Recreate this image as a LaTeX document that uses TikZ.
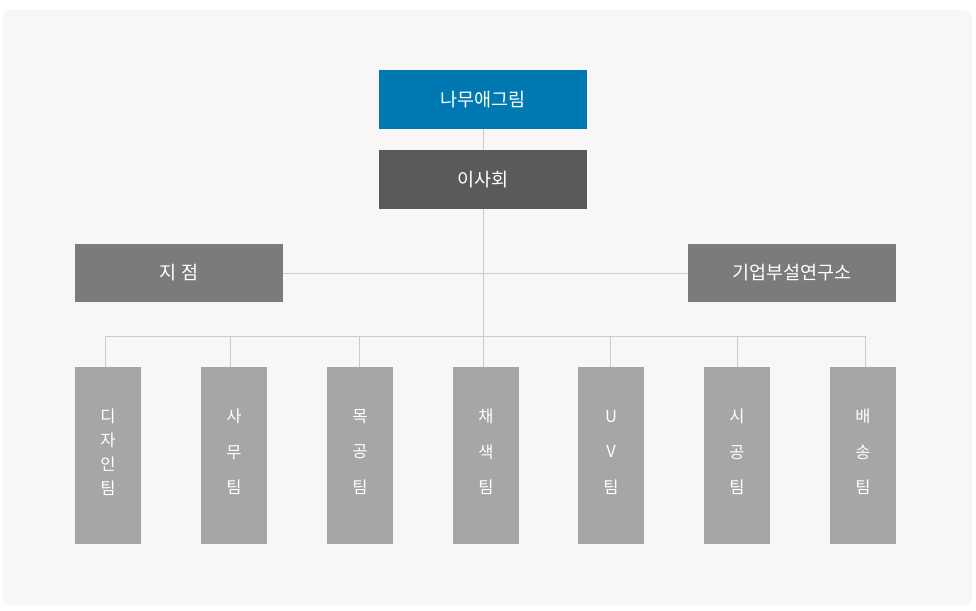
\documentclass[tikz,border=0pt]{standalone}
\usepackage{fontspec}
\setmainfont{Noto Sans CJK KR}
\usetikzlibrary{positioning}

\definecolor{panelbg}{HTML}{F8F6F7}
\definecolor{topblue}{HTML}{0079B2}
\definecolor{boarddark}{HTML}{5A5A5A}
\definecolor{branchgray}{HTML}{7B7B7B}
\definecolor{teamgray}{HTML}{A6A6A6}
\definecolor{linegray}{HTML}{CCCCCC}

\begin{document}
\begin{tikzpicture}[
    x=1pt, y=-1pt,
    link/.style={draw=linegray, line width=1pt},
    headbox/.style={rectangle, minimum width=208pt, minimum height=59pt, inner sep=0pt, text=white, font=\fontsize{18.5}{22}\selectfont},
    branchbox/.style={rectangle, fill=branchgray, minimum width=208pt, minimum height=58pt, inner sep=0pt, text=white, font=\fontsize{18.5}{22}\selectfont},
    teambox/.style={rectangle, fill=teamgray, minimum width=66pt, minimum height=177pt, inner sep=0pt},
    teamtext/.style={text=white, align=center, inner sep=0pt, yshift=3.5pt, font=\fontsize{16.5}{35.5}\selectfont}
]

\useasboundingbox (0,0) rectangle (976,610);
\fill[panelbg, rounded corners=8pt] (2,10) rectangle (972,605);

\node[headbox, fill=topblue] (Top) at (483,99.5) {나무애그림};
\node[headbox, fill=boarddark] (Board) at (483,179.5) {이사회};

\node[branchbox] (Branch) at (179,273) {지 점};
\node[branchbox] (Lab) at (792,273) {기업부설연구소};

\node[teambox, label={[teamtext, font=\fontsize{16.5}{24}\selectfont]center:{디\\자\\인\\팀}}] (Design) at (108,455.5) {};
\node[teambox, label={[teamtext]center:{사\\무\\팀}}] (Office) at (234,455.5) {};
\node[teambox, label={[teamtext]center:{목\\공\\팀}}] (Wood) at (360,455.5) {};
\node[teambox, label={[teamtext]center:{채\\색\\팀}}] (Paint) at (486,455.5) {};
\node[teambox, label={[teamtext]center:{U\\V\\팀}}] (UV) at (611,455.5) {};
\node[teambox, label={[teamtext]center:{시\\공\\팀}}] (Build) at (737,455.5) {};
\node[teambox, label={[teamtext]center:{배\\송\\팀}}] (Ship) at (863,455.5) {};

% bus line
\coordinate (BusL) at (105,336);
\coordinate (BusR) at (865,336);

\draw[link] (Top.south) -- (Board.north);
\draw[link] (Board.south) -- (Board.south |- BusL);
\draw[link] (Branch.east) -- (Lab.west);
\draw[link] (BusL) -- (BusR);

\draw[link] (BusL) -- (BusL |- Design.north);
\draw[link] ([xshift=-4pt]Office.north |- BusL) -- ([xshift=-4pt]Office.north);
\draw[link] ([xshift=-1pt]Wood.north |- BusL) -- ([xshift=-1pt]Wood.north);
\draw[link] ([xshift=-3pt]Paint.north |- BusL) -- ([xshift=-3pt]Paint.north);
\draw[link] ([xshift=-1pt]UV.north |- BusL) -- ([xshift=-1pt]UV.north);
\draw[link] (Build.north |- BusL) -- (Build.north);
\draw[link] (BusR) -- (BusR |- Ship.north);

\end{tikzpicture}
\end{document}
